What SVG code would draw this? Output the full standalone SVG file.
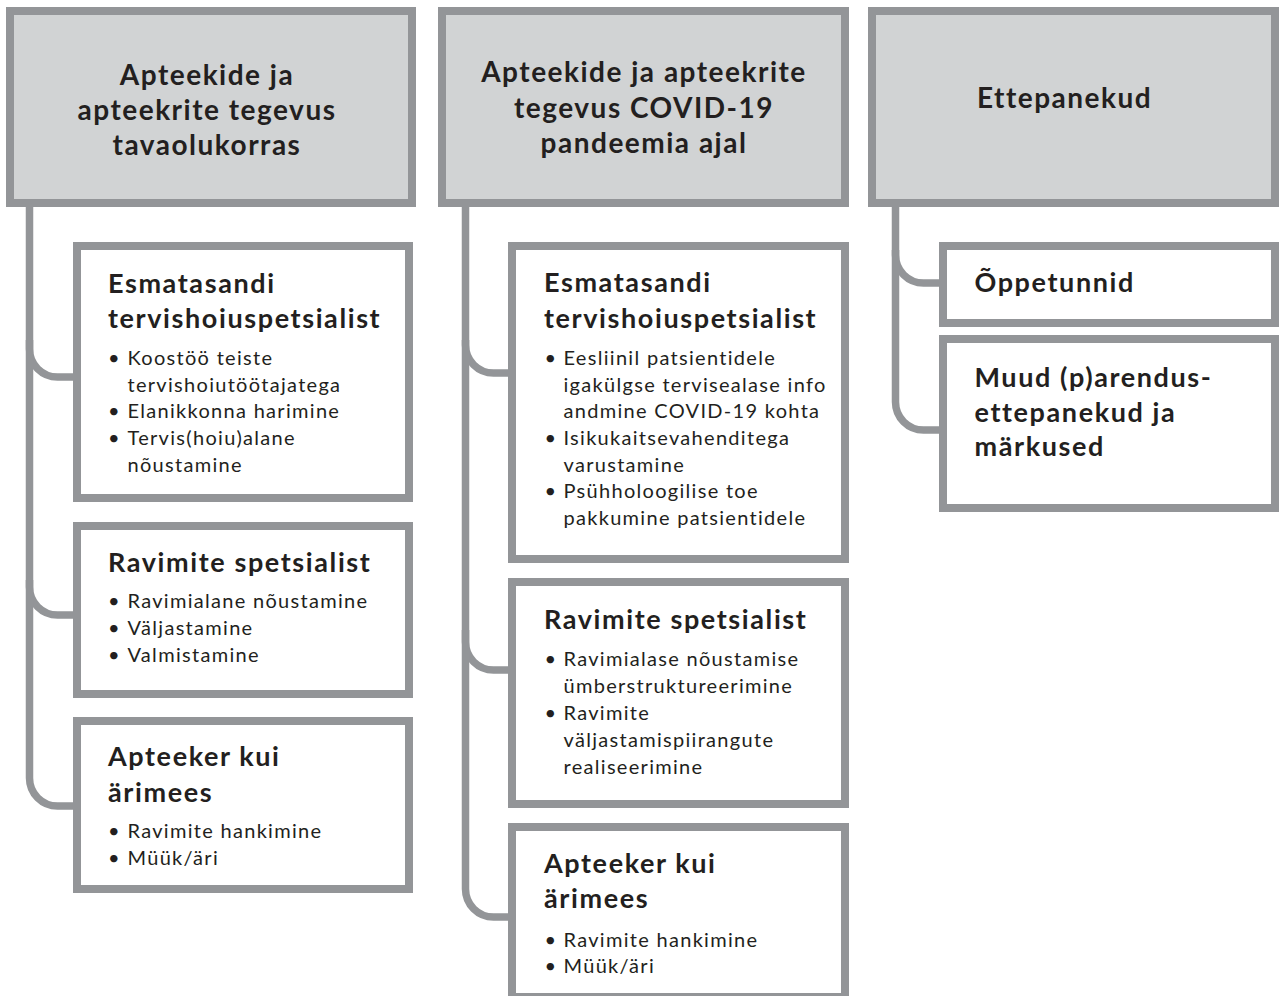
<svg xmlns="http://www.w3.org/2000/svg" width="1281" height="996" viewBox="0 0 1281 996">
<style>
.hdr{fill:#d1d3d4;stroke:#939598;stroke-width:8}
.box{fill:#ffffff;stroke:#939598;stroke-width:8}
.con{fill:none;stroke:#939598;stroke-width:7.5}
text{font-family:Lato,"Open Sans","Liberation Sans",sans-serif;fill:#231f20}
.t{font-size:28px;font-weight:700;text-anchor:middle;letter-spacing:1.5px}
.e{font-size:28px;font-weight:700;letter-spacing:1.5px}
.h{font-size:27px;font-weight:700;letter-spacing:1.6px}
.b{font-size:20px;font-weight:400;letter-spacing:1.3px}
</style>
<rect width="1281" height="996" fill="#ffffff"/>
<g id="connectors">
<path class="con" d="M29.5 207 V349 A28 28 0 0 0 57.5 377 H76"/>
<path class="con" d="M29.5 340 V587 A28 28 0 0 0 57.5 615 H76"/>
<path class="con" d="M29.5 580 V778 A28 28 0 0 0 57.5 806 H76"/>
<path class="con" d="M465.5 207 V345 A28 28 0 0 0 493.5 373 H511"/>
<path class="con" d="M465.5 340 V642 A28 28 0 0 0 493.5 670 H511"/>
<path class="con" d="M465.5 630 V889 A28 28 0 0 0 493.5 917 H511"/>
<path class="con" d="M895.5 207 V255 A28 28 0 0 0 923.5 283 H942"/>
<path class="con" d="M895.5 250 V402 A28 28 0 0 0 923.5 430 H942"/>
</g>
<g id="h1">
<rect class="hdr" x="10" y="11" width="402" height="192"/>
<text class="t" x="207" y="85">Apteekide ja</text>
<text class="t" x="207" y="120">apteekrite tegevus</text>
<text class="t" x="207" y="155">tavaolukorras</text>
</g>
<g id="h2">
<rect class="hdr" x="442" y="11" width="403" height="192"/>
<text class="t" x="644" y="82">Apteekide ja apteekrite</text>
<text class="t" x="644" y="118">tegevus COVID-19</text>
<text class="t" x="644" y="153">pandeemia ajal</text>
</g>
<g id="h3">
<rect class="hdr" x="872" y="11" width="403" height="192"/>
<text class="e" x="977" y="108">Ettepanekud</text>
</g>
<g id="c1b1">
<rect class="box" x="77" y="246" width="332" height="252"/>
<text class="h" x="108" y="293">Esmatasandi</text>
<text class="h" x="108" y="328">tervishoiuspetsialist</text>
<text class="b" y="365"><tspan x="108">•</tspan><tspan x="127.5">Koostöö teiste</tspan></text>
<text class="b" x="127.5" y="391.7">tervishoiutöötajatega</text>
<text class="b" y="418.3"><tspan x="108">•</tspan><tspan x="127.5">Elanikkonna harimine</tspan></text>
<text class="b" y="445"><tspan x="108">•</tspan><tspan x="127.5">Tervis(hoiu)alane</tspan></text>
<text class="b" x="127.5" y="471.7">nõustamine</text>
</g>
<g id="c1b2">
<rect class="box" x="77" y="526" width="332" height="168"/>
<text class="h" x="108" y="571.5">Ravimite spetsialist</text>
<text class="b" y="608"><tspan x="108">•</tspan><tspan x="127.5">Ravimialane nõustamine</tspan></text>
<text class="b" y="635"><tspan x="108">•</tspan><tspan x="127.5">Väljastamine</tspan></text>
<text class="b" y="662"><tspan x="108">•</tspan><tspan x="127.5">Valmistamine</tspan></text>
</g>
<g id="c1b3">
<rect class="box" x="77" y="721" width="332" height="168"/>
<text class="h" x="108" y="766">Apteeker kui</text>
<text class="h" x="108" y="801.5">ärimees</text>
<text class="b" y="838"><tspan x="108">•</tspan><tspan x="127.5">Ravimite hankimine</tspan></text>
<text class="b" y="865"><tspan x="108">•</tspan><tspan x="127.5">Müük/äri</tspan></text>
</g>
<g id="c2b1">
<rect class="box" x="512" y="246" width="333" height="313"/>
<text class="h" x="544" y="291.7">Esmatasandi</text>
<text class="h" x="544" y="327.7">tervishoiuspetsialist</text>
<text class="b" y="365"><tspan x="544.5">•</tspan><tspan x="563.5">Eesliinil patsientidele</tspan></text>
<text class="b" x="563.5" y="391.7">igakülgse tervisealase info</text>
<text class="b" x="563.5" y="418.3">andmine COVID-19 kohta</text>
<text class="b" y="445"><tspan x="544.5">•</tspan><tspan x="563.5">Isikukaitsevahenditega</tspan></text>
<text class="b" x="563.5" y="471.7">varustamine</text>
<text class="b" y="498.3"><tspan x="544.5">•</tspan><tspan x="563.5">Psühholoogilise toe</tspan></text>
<text class="b" x="563.5" y="525">pakkumine patsientidele</text>
</g>
<g id="c2b2">
<rect class="box" x="512" y="582" width="333" height="222"/>
<text class="h" x="544" y="629.3">Ravimite spetsialist</text>
<text class="b" y="666"><tspan x="544.5">•</tspan><tspan x="563.5">Ravimialase nõustamise</tspan></text>
<text class="b" x="563.5" y="692.7">ümberstruktureerimine</text>
<text class="b" y="720.3"><tspan x="544.5">•</tspan><tspan x="563.5">Ravimite</tspan></text>
<text class="b" x="563.5" y="747">väljastamispiirangute</text>
<text class="b" x="563.5" y="773.5">realiseerimine</text>
</g>
<g id="c2b3">
<rect class="box" x="512" y="827" width="333" height="170"/>
<text class="h" x="544" y="873.3">Apteeker kui</text>
<text class="h" x="544" y="908.3">ärimees</text>
<text class="b" y="946.7"><tspan x="544.5">•</tspan><tspan x="563.5">Ravimite hankimine</tspan></text>
<text class="b" y="972.7"><tspan x="544.5">•</tspan><tspan x="563.5">Müük/äri</tspan></text>
</g>
<g id="c3b1">
<rect class="box" x="943" y="246" width="332" height="77"/>
<text class="h" x="974.5" y="291.7">Õppetunnid</text>
</g>
<g id="c3b2">
<rect class="box" x="943" y="339" width="332" height="169"/>
<text class="h" x="974.5" y="386.7">Muud (p)arendus-</text>
<text class="h" x="974.5" y="421.7">ettepanekud ja</text>
<text class="h" x="974.5" y="456">märkused</text>
</g>
</svg>
